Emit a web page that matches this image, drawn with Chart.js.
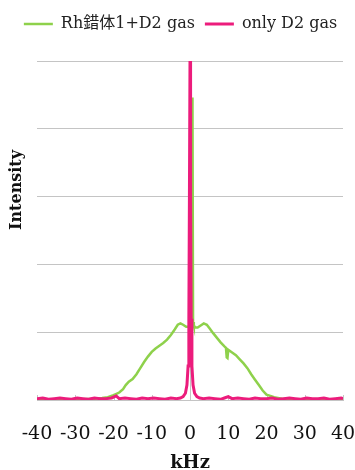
<!DOCTYPE html>
<html>
<head>
<meta charset="utf-8">
<script src="https://cdn.jsdelivr.net/npm/chart.js@4"></script>
<style>
  html, body { margin: 0; padding: 0; background: #fff; }
  #wrap { width: 355px; height: 470px; position: relative; }
</style>
</head>
<body>
<div id="wrap"><canvas id="nmrChart"></canvas></div>
<script>
// Frequency axis ticks (kHz)
const xTicks = [-40, -30, -20, -10, 0, 10, 20, 30, 40];

// Rh錯体1+D2 gas
const freqRh = [-40, -36, -32, -28, -25, -23, -21.5, -20, -18.5, -17.5, -16.8, -16, -15, -14, -13, -12, -11, -10,
    -9, -8, -7, -6, -5, -4, -3.2, -2.5, -1.8, -1, -0.5, 0, 0.3, 0.55, 0.65, 0.8, 1.0, 1.4, 2, 2.8, 3.6, 4.4,
    5.2, 6, 7, 8, 9, 9.4, 9.6, 9.8, 10, 11, 12, 13, 14, 15, 16, 17, 18, 19, 20, 21, 22, 24, 27, 30, 34, 37, 40];
const intensityRh = [0.01, 0.0, 0.01, 0.01, 0.02, 0.03, 0.04, 0.07, 0.11, 0.16, 0.22, 0.27, 0.31, 0.38, 0.47, 0.56, 0.64, 0.71,
    0.76, 0.8, 0.84, 0.89, 0.96, 1.04, 1.11, 1.13, 1.11, 1.08, 1.08, 1.1, 1.2, 4.46, 4.3, 1.15, 1.1, 1.07, 1.07, 1.1, 1.13, 1.11,
    1.05, 0.99, 0.92, 0.85, 0.79, 0.77, 0.63, 0.62, 0.74, 0.7, 0.66, 0.6, 0.54, 0.47, 0.38, 0.3, 0.22, 0.14, 0.08, 0.06, 0.04, 0.02, 0.01, 0.0, 0.01, 0.0, 0.01];

// only D2 gas
const freqD2 = [-40, -38.5, -37, -35.5, -34, -32.5, -31, -29.5, -28, -26.5, -25, -23.5, -22, -20.5, -19.3, -18.5, -17, -15.5,
    -14, -12.5, -11, -9.5, -8, -6.5, -5, -3.5, -2.5, -1.8, -1.2, -0.8, -0.5, -0.3, -0.15, 0, 0.15, 0.3, 0.5, 0.8, 1.2, 1.8,
    2.5, 3.5, 5, 6.5, 8, 9, 10, 11, 12.5, 14, 15.5, 17, 18.5, 20, 21.5, 23, 24.5, 26, 27.5, 29, 30.5, 32, 33.5, 35, 36.5, 38, 39.5, 40];
const intensityD2 = [0.02, 0.03, 0.01, 0.02, 0.03, 0.02, 0.01, 0.03, 0.02, 0.01, 0.03, 0.02, 0.02, 0.03, 0.06, 0.02, 0.03, 0.02,
    0.01, 0.03, 0.02, 0.03, 0.02, 0.01, 0.03, 0.02, 0.03, 0.05, 0.1, 0.22, 0.5, 1.2, 3.0, 5.0, 3.0, 1.2, 0.5, 0.22, 0.1, 0.05,
    0.03, 0.02, 0.03, 0.02, 0.01, 0.03, 0.05, 0.02, 0.03, 0.02, 0.01, 0.03, 0.02, 0.02, 0.03, 0.01, 0.02, 0.03, 0.02, 0.01, 0.03, 0.02, 0.02, 0.03, 0.01, 0.02, 0.03, 0.02];

const serif = '"DejaVu Serif", "Noto Sans CJK JP", serif';
const gridColor = '#c4c4c4';

function toPoints(xs, ys) {
    return xs.map((x, i) => ({ x: x, y: ys[i] }));
}

// extra room under the legend
const legendGap = {
    id: 'legendGap',
    beforeInit(chart) {
        const fit = chart.legend.fit;
        chart.legend.fit = function() {
            fit.bind(chart.legend)();
            this.height += 19;
        };
    }
};

// short tick marks pointing up from the x axis
const innerTicks = {
    id: 'innerTicks',
    beforeDatasetsDraw(chart) {
        const { ctx, chartArea } = chart;
        const xScale = chart.scales.x;
        ctx.save();
        ctx.strokeStyle = gridColor;
        ctx.lineWidth = 1;
        xScale.ticks.forEach(t => {
            const px = Math.round(xScale.getPixelForValue(t.value)) + 0.5;
            ctx.beginPath();
            ctx.moveTo(px, chartArea.bottom);
            ctx.lineTo(px, chartArea.bottom - 5);
            ctx.stroke();
        });
        ctx.restore();
    }
};

// y title sits on the left edge
const yTitle = {
    id: 'yTitle',
    afterDraw(chart) {
        const ctx = chart.ctx;
        ctx.save();
        ctx.translate(17, 190);
        ctx.rotate(-Math.PI / 2);
        ctx.font = 'bold 16px ' + serif;
        ctx.fillStyle = '#111';
        ctx.textAlign = 'center';
        ctx.textBaseline = 'middle';
        ctx.fillText('Intensity', 0, 0);
        ctx.restore();
    }
};

// empty side axes that only reserve space
function spacer(side, width) {
    return {
        type: 'linear',
        position: side,
        min: 0,
        max: 1,
        ticks: { display: false },
        grid: { display: false, drawTicks: false },
        border: { display: false },
        afterFit: s => { s.width = width; }
    };
}

const ctx = document.getElementById('nmrChart').getContext('2d');
new Chart(ctx, {
    type: 'line',
    data: {
        datasets: [{
            label: 'Rh錯体1+D2 gas',
            data: toPoints(freqRh, intensityRh),
            borderColor: '#8ed14b',
            backgroundColor: '#8ed14b',
            borderWidth: 2.5,
            pointRadius: 0,
            tension: 0,
            order: 1
        }, {
            label: 'only D2 gas',
            data: toPoints(freqD2, intensityD2),
            borderColor: '#ec1c7c',
            backgroundColor: '#ec1c7c',
            borderWidth: 3,
            pointRadius: 0,
            tension: 0,
            order: 0
        }]
    },
    options: {
        responsive: true,
        maintainAspectRatio: false,
        animation: false,
        layout: {
            padding: { top: 6, left: 6, right: 0, bottom: 0 }
        },
        plugins: {
            tooltip: { enabled: false },
            legend: {
                position: 'top',
                labels: {
                    usePointStyle: true,
                    pointStyle: 'line',
                    pointStyleWidth: 29,
                    padding: 10,
                    color: '#222',
                    font: { family: serif, size: 16 },
                    sort: (a, b) => a.datasetIndex - b.datasetIndex
                }
            }
        },
        scales: {
            x: {
                type: 'linear',
                min: -40,
                max: 40,
                afterBuildTicks: axis => {
                    axis.ticks = xTicks.map(v => ({ value: v }));
                },
                afterFit: s => {
                    s.height = 70;
                    s.paddingLeft = 0;
                    s.paddingRight = 0;
                },
                grid: { display: false, drawTicks: false },
                border: { display: true, color: gridColor },
                ticks: {
                    padding: 25,
                    color: '#111',
                    minRotation: 0,
                    maxRotation: 0,
                    autoSkip: false,
                    font: { family: serif, size: 19, lineHeight: 1 }
                },
                title: {
                    display: true,
                    text: 'kHz',
                    color: '#111',
                    padding: { top: 0, bottom: -2 },
                    font: { family: serif, size: 18, weight: 'bold', lineHeight: 1 }
                }
            },
            y: {
                type: 'linear',
                position: { x: 0 },
                min: 0,
                max: 5,
                afterFit: s => { s.width = 0; },
                ticks: { display: false, stepSize: 1 },
                grid: { color: gridColor, drawTicks: false },
                border: { display: true, color: gridColor }
            },
            padLeft: spacer('left', 31),
            padRight: spacer('right', 12)
        }
    },
    plugins: [legendGap, innerTicks, yTitle]
});
</script>
</body>
</html>
